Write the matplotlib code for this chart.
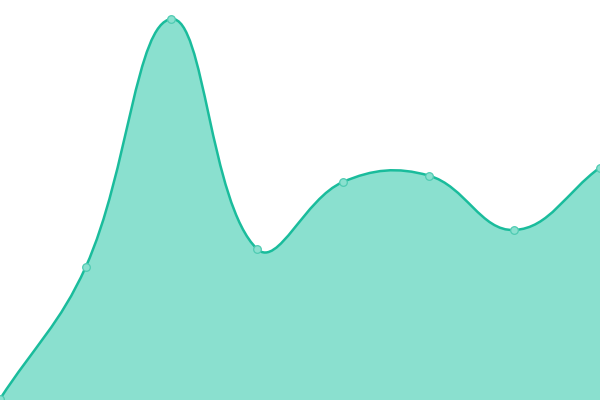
import numpy as np
import matplotlib
matplotlib.use("Agg")
import matplotlib.pyplot as plt
from matplotlib.path import Path
from matplotlib.patches import PathPatch

# values (y axis 0..400)
labels = list(range(8))
values = [1, 133, 381, 151, 218, 224.5, 170, 232.5]

line_color = "#1abc9c"
fill_color = "#8ae0cf"
tension = 0.4

fig = plt.figure(figsize=(6, 4), dpi=100)
ax = fig.add_axes([0, 0, 1, 1])
ax.set_xlim(0, len(values) - 1)
ax.set_ylim(0, 400)
ax.axis("off")

x = np.array(labels, dtype=float)
y = np.array(values, dtype=float)

# spline control points like a canvas chart lib (distances in pixel space)
pix = ax.transData.transform(np.column_stack([x, y]))
n = len(x)
cp_prev = np.zeros((n, 2))
cp_next = np.zeros((n, 2))
for i in range(n):
    cur = pix[i]
    prv = pix[i - 1] if i > 0 else cur
    nxt = pix[i + 1] if i < n - 1 else cur
    d01 = np.hypot(*(cur - prv))
    d12 = np.hypot(*(nxt - cur))
    tot = d01 + d12
    fa = tension * (d01 / tot if tot else 0)
    fb = tension * (d12 / tot if tot else 0)
    cp_prev[i] = cur - fa * (nxt - prv)
    cp_next[i] = cur + fb * (nxt - prv)

inv = ax.transData.inverted()
cp_prev = inv.transform(cp_prev)
cp_next = inv.transform(cp_next)

verts = [(x[0], y[0])]
codes = [Path.MOVETO]
for i in range(n - 1):
    verts += [tuple(cp_next[i]), tuple(cp_prev[i + 1]), (x[i + 1], y[i + 1])]
    codes += [Path.CURVE4] * 3

fill_verts = verts + [(x[-1], 0), (x[0], 0), (x[0], y[0])]
fill_codes = codes + [Path.LINETO, Path.LINETO, Path.CLOSEPOLY]

ax.add_patch(PathPatch(Path(fill_verts, fill_codes), facecolor=fill_color,
                       edgecolor="none", zorder=1))
ax.add_patch(PathPatch(Path(verts, codes), facecolor="none",
                       edgecolor=line_color, lw=1.8, zorder=2))
ax.plot(x, y, "o", ms=5.5, mfc=fill_color, mec="#4fcbb2", mew=0.9,
        zorder=3, clip_on=True)

fig.savefig("out.png", dpi=100)
